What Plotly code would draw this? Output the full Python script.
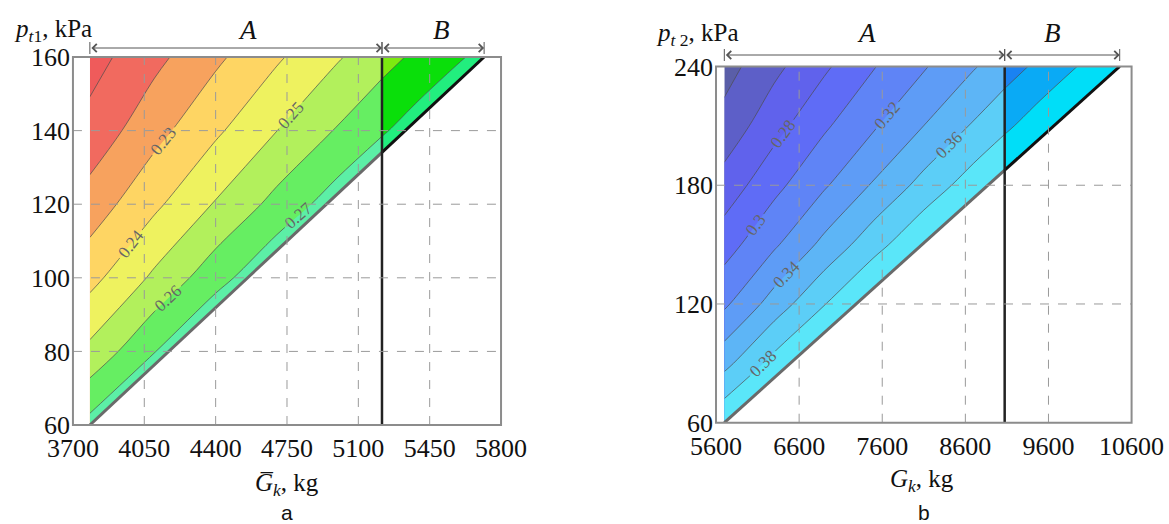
import numpy as np
import plotly.graph_objects as go

# ---------------- Panel a (p_t1 vs G_k bar) ----------------
a_G = [3783, 4100, 4400, 4700, 5000, 5216, 5400, 5600, 5800]
a_p = [60, 80, 100, 120, 140, 160]
a_Z = [
    [0.2733, 0.2924, 0.3105, 0.3286, 0.3467, 0.3597, 0.3708, 0.3829, 0.3949],
    [0.2525, 0.2696, 0.2851, 0.3006, 0.3162, 0.3274, 0.3369, 0.3473, 0.3576],
    [0.2368, 0.2519, 0.2660, 0.2796, 0.2933, 0.3031, 0.3115, 0.3206, 0.3297],
    [0.2244, 0.2380, 0.2508, 0.2632, 0.2753, 0.2841, 0.2915, 0.2996, 0.3077],
    [0.2134, 0.2267, 0.2383, 0.2499, 0.2609, 0.2688, 0.2755, 0.2828, 0.2901],
    [0.2060, 0.2173, 0.2280, 0.2386, 0.2491, 0.2563, 0.2624, 0.2691, 0.2757],
]
a_split = 5216
a_diag_G = [3783, 5717]
a_diag_p = [60, 160]
a_levels_A = [0.21, 0.27, 0.01]
a_levels_B = [0.26, 0.27, 0.01]
a_colors_A = ['#ef5b5b', '#f16a5f', '#f7a25e', '#fed563', '#eef25f', '#b2f05c', '#66ee62', '#5cefa6']
a_colors_B = ['#7cea10', '#0adf0a', '#22ee7e']
a_xticks = [3700, 4050, 4400, 4750, 5100, 5450, 5800]
a_yticks = [60, 80, 100, 120, 140, 160]

# ---------------- Panel b (p_t2 vs G_k) ----------------
b_G = [5700, 6300, 6900, 7500, 8100, 8700, 9073, 9500, 10000, 10600]
b_p = [60, 90, 120, 150, 180, 210, 240]
b_Z = [
    [0.3978, 0.4346, 0.4714, 0.5082, 0.5450, 0.5818, 0.6047, 0.6309, 0.6616, 0.6984],
    [0.3539, 0.3872, 0.4196, 0.4519, 0.4843, 0.5166, 0.5367, 0.5598, 0.5867, 0.6191],
    [0.3164, 0.3489, 0.3789, 0.4078, 0.4366, 0.4655, 0.4834, 0.5040, 0.5280, 0.5568],
    [0.2914, 0.3170, 0.3452, 0.3723, 0.3983, 0.4243, 0.4405, 0.4590, 0.4807, 0.5068],
    [0.2680, 0.2944, 0.3175, 0.3423, 0.3668, 0.3905, 0.4053, 0.4222, 0.4419, 0.4656],
    [0.2473, 0.2727, 0.2970, 0.3179, 0.3401, 0.3622, 0.3758, 0.3913, 0.4094, 0.4312],
    [0.2321, 0.2550, 0.2765, 0.2991, 0.3182, 0.3384, 0.3507, 0.3649, 0.3819, 0.4022],
]
b_split = 9073
b_diag_G = [5700, 10457]
b_diag_p = [60, 240]
b_levels_A = [0.24, 0.38, 0.02]
b_levels_B = [0.36, 0.38, 0.02]
b_colors_A = ['#5a5ea8', '#5d5fc8', '#6062ec', '#5f6cf6', '#5f84f6', '#5e9cf6',
              '#5db5f6', '#5ccef7', '#5ae6f9']
b_colors_B = ['#1a82f2', '#0aaaf5', '#00def8']
b_xticks = [5600, 6600, 7600, 8600, 9600, 10600]
b_yticks = [60, 120, 180, 240]

SERIF = 'Liberation Serif'
W, H = 1169, 524
DOM = {
    'x': [0.0624, 0.4286], 'y': [0.1889, 0.8912],
    'x2': [0.6125, 0.968], 'y2': [0.1933, 0.8731],
}
fig = go.Figure()


def add_contour(G, p, Z, lo, hi, levels, colors, xa, ya):
    G = np.array(G)
    Z = np.array(Z)
    m = (G >= lo) & (G <= hi)
    n = len(colors)
    cs = [[i / (n - 1), c] for i, c in enumerate(colors)]
    fig.add_trace(go.Contour(
        x=G[m], y=p, z=Z[:, m], autocontour=False,
        contours=dict(start=levels[0], end=levels[1], size=levels[2], coloring='fill',
                      showlabels=True, labelformat='.2~f',
                      labelfont=dict(family=SERIF, size=17, color='#666666')),
        colorscale=cs, showscale=False, line=dict(color='#4d4d4d', width=0.7),
        xaxis=xa, yaxis=ya, hoverinfo='skip'))


def add_panel(G, p, Z, split, dG, dp, lA, lB, cA, cB, xt, yt, xa, ya):
    add_contour(G, p, Z, G[0], split, lA, cA, xa, ya)
    add_contour(G, p, Z, split, G[-1], lB, cB, xa, ya)
    xmin, xmax, ymin, ymax = xt[0], xt[-1], yt[0], yt[-1]
    padx, pady = xmax - xmin, ymax - ymin
    # white mask below the lower diagonal boundary (clipped to the plot area)
    fig.add_trace(go.Scatter(x=[dG[0], dG[1], dG[1], xmax + padx, xmax + padx, dG[0], dG[0]],
                             y=[dp[0], dp[1], ymax + pady, ymax + pady, ymin - pady, ymin - pady, dp[0]],
                             fill='toself', fillcolor='white', mode='lines',
                             line=dict(width=0, color='white'), xaxis=xa, yaxis=ya,
                             hoverinfo='skip', showlegend=False))
    ps = float(np.interp(split, dG, dp))
    fig.add_trace(go.Scatter(x=[dG[0], split], y=[dp[0], ps], mode='lines',
                             line=dict(color='#6a6a6a', width=3), xaxis=xa, yaxis=ya,
                             hoverinfo='skip', showlegend=False))
    fig.add_trace(go.Scatter(x=[split, dG[1]], y=[ps, dp[1]], mode='lines',
                             line=dict(color='#111111', width=3), xaxis=xa, yaxis=ya,
                             hoverinfo='skip', showlegend=False))
    fig.add_trace(go.Scatter(x=[split, split], y=[ymin, ymax], mode='lines',
                             line=dict(color='#222222', width=2.5), xaxis=xa, yaxis=ya,
                             hoverinfo='skip', showlegend=False))
    # dashed grid lines above the fills
    for v in xt[1:-1]:
        fig.add_shape(type='line', x0=v, x1=v, y0=ymin, y1=ymax, xref=xa, yref=ya,
                      line=dict(color='#9a9a9a', width=1, dash='dash'), layer='above')
    for v in yt[1:-1]:
        fig.add_shape(type='line', x0=xmin, x1=xmax, y0=v, y1=v, xref=xa, yref=ya,
                      line=dict(color='#9a9a9a', width=1, dash='dash'), layer='above')
    # frame of the plot area
    dx, dy = DOM[xa], DOM[ya]
    fig.add_shape(type='rect', x0=dx[0], x1=dx[1], y0=dy[0], y1=dy[1],
                  xref='paper', yref='paper', layer='above',
                  line=dict(color='#8c8c8c', width=2), fillcolor='rgba(0,0,0,0)')


add_panel(a_G, a_p, a_Z, a_split, a_diag_G, a_diag_p, a_levels_A, a_levels_B,
          a_colors_A, a_colors_B, a_xticks, a_yticks, 'x', 'y')
add_panel(b_G, b_p, b_Z, b_split, b_diag_G, b_diag_p, b_levels_A, b_levels_B,
          b_colors_A, b_colors_B, b_xticks, b_yticks, 'x2', 'y2')

axis_common = dict(showgrid=False, zeroline=False, showline=False, ticks='', automargin=False,
                   tickfont=dict(family=SERIF, size=26, color='#111'))


def tick_axis(vals):
    return dict(tickvals=vals, ticktext=[str(v) for v in vals])


fig.update_layout(
    width=W, height=H, margin=dict(l=0, r=0, t=0, b=0, autoexpand=False),
    paper_bgcolor='white', plot_bgcolor='white', showlegend=False,
    xaxis=dict(domain=DOM['x'], range=[a_xticks[0], a_xticks[-1]], ticklabelstandoff=5,
               anchor='y', **tick_axis(a_xticks), **axis_common),
    yaxis=dict(domain=DOM['y'], range=[a_yticks[0], a_yticks[-1]], ticklabelstandoff=2,
               anchor='x', **tick_axis(a_yticks), **axis_common),
    xaxis2=dict(domain=DOM['x2'], range=[b_xticks[0], b_xticks[-1]], ticklabelstandoff=5,
                anchor='y2', **tick_axis(b_xticks), **axis_common),
    yaxis2=dict(domain=DOM['y2'], range=[b_yticks[0], b_yticks[-1]], ticklabelstandoff=2,
                anchor='x2', **tick_axis(b_yticks), **axis_common),
)


def txt(x, y, s, size=25, xanchor='center', family=SERIF):
    fig.add_annotation(x=x, y=y, xref='paper', yref='paper', text=s, showarrow=False,
                       xanchor=xanchor, yanchor='middle',
                       font=dict(family=family, size=size, color='#111'))


txt(12 / W, 1 - 30 / H, '<i>p</i><sub><i>t</i>1</sub>, kPa', xanchor='left')
txt(654 / W, 1 - 34 / H, '<i>p</i><sub><i>t</i> 2</sub>, kPa', xanchor='left')
txt(287 / W, 1 - 484 / H, '<i>G\u0305</i><sub><i>k</i></sub>, kg')
txt(922 / W, 1 - 480 / H, '<i>G</i><sub><i>k</i></sub>, kg')
txt(287 / W, 1 - 512 / H, 'a', size=21, family='Liberation Sans')
txt(924 / W, 1 - 512 / H, 'b', size=21, family='Liberation Sans')
txt(247 / W, 1 - 30 / H, '<i>A</i>', size=27)
txt(441 / W, 1 - 30 / H, '<i>B</i>', size=27)
txt(866 / W, 1 - 33 / H, '<i>A</i>', size=27)
txt(1052 / W, 1 - 33 / H, '<i>B</i>', size=27)


def dim_arrow(xa, x0, x1, ypx):
    yp = 1 - ypx / H
    fig.add_annotation(x=x1, y=yp, xref=xa, yref='paper', ax=x0, ay=0, axref=xa,
                       ayref='pixel', text='', showarrow=True, arrowside='end+start',
                       arrowhead=4, startarrowhead=4, arrowsize=1.6, startarrowsize=1.6,
                       arrowwidth=1, arrowcolor='#555')
    for xv in (x0, x1):
        fig.add_shape(type='line', x0=xv, x1=xv, y0=1 - (ypx - 6) / H, y1=1 - (ypx + 6) / H,
                      xref=xa, yref='paper', line=dict(color='#555', width=1))


dim_arrow('x', a_diag_G[0], a_split, 48)
dim_arrow('x', a_split, a_diag_G[1], 48)
dim_arrow('x2', b_diag_G[0], b_split, 55)
dim_arrow('x2', b_split, b_diag_G[1], 55)

fig.write_html('out.html')
